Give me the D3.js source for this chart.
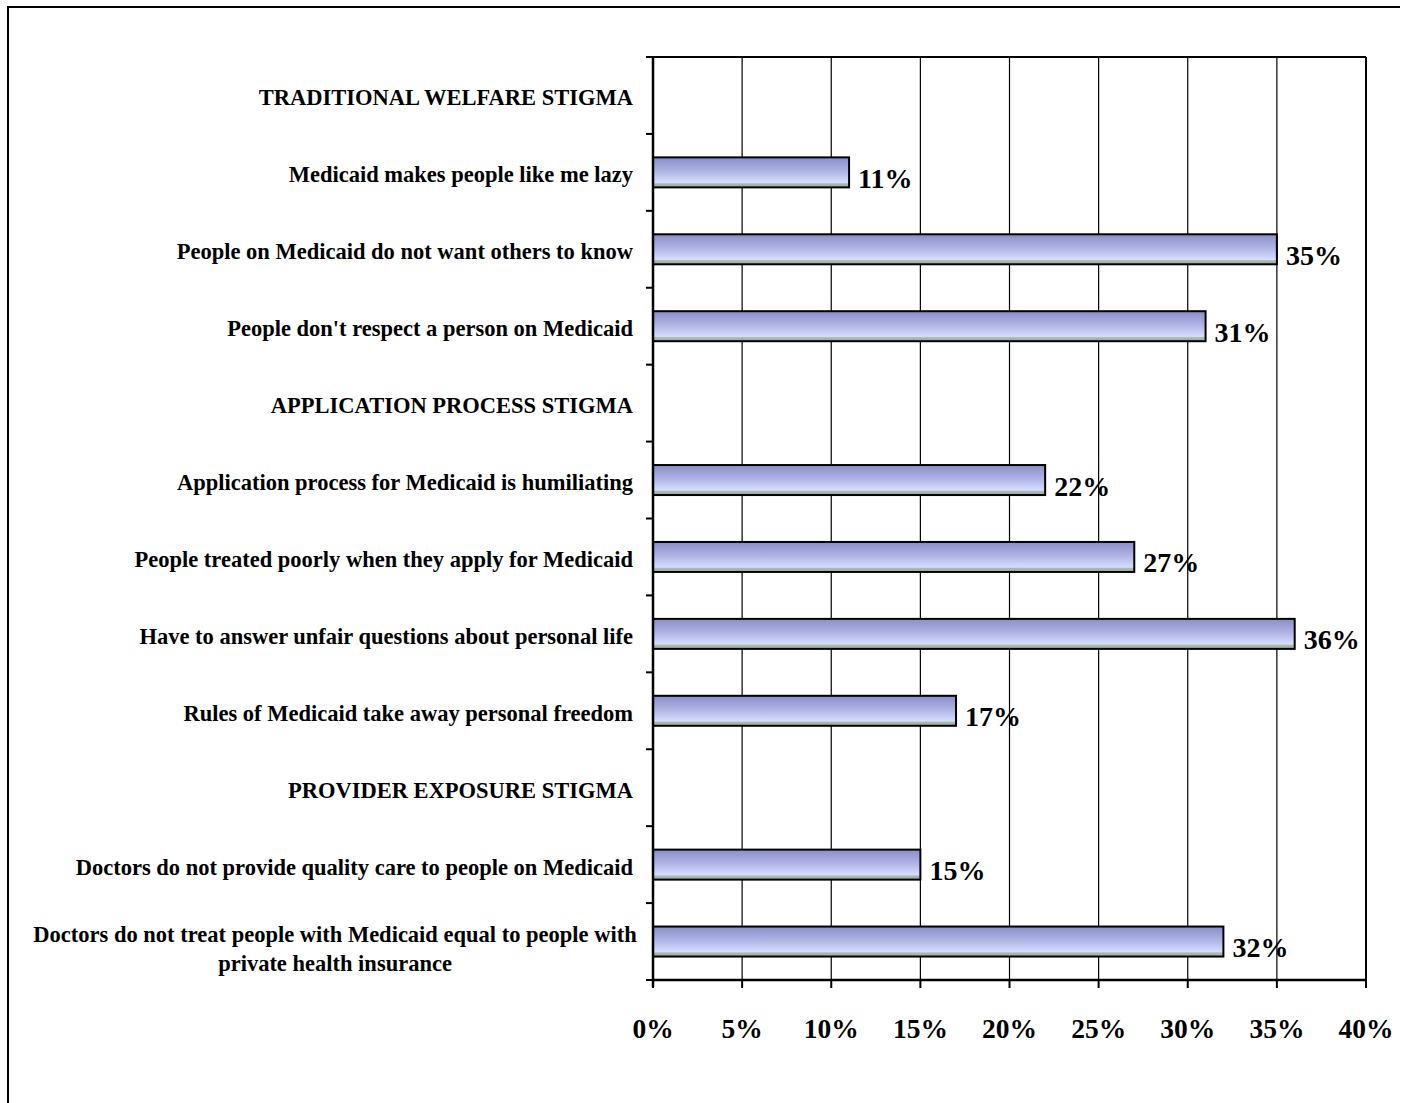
<!DOCTYPE html>
<html>
<head>
<meta charset="utf-8">
<script src="https://cdn.jsdelivr.net/npm/d3@7"></script>
<style>
  body { margin: 0; background: #fff; }
  svg text { font-family: "Liberation Serif", "Times New Roman", serif; font-weight: bold; fill: #000; }
</style>
</head>
<body>
<div id="chart"></div>
<script>
// rows top to bottom; headers have no value
const categories = [
  'TRADITIONAL WELFARE STIGMA',
  'Medicaid makes people like me lazy',
  'People on Medicaid do not want others to know',
  "People don't respect a person on Medicaid",
  'APPLICATION PROCESS STIGMA',
  'Application process for Medicaid is humiliating',
  'People treated poorly when they apply for Medicaid',
  'Have to answer unfair questions about personal life',
  'Rules of Medicaid take away personal freedom',
  'PROVIDER EXPOSURE STIGMA',
  'Doctors do not provide quality care to people on Medicaid',
  'Doctors do not treat people with Medicaid equal to people with|private health insurance'
]
const values = [null, 0.11, 0.35, 0.31, null, 0.22, 0.27, 0.36, 0.17, null, 0.15, 0.32]
const xTicks = [0, 0.05, 0.10, 0.15, 0.20, 0.25, 0.30, 0.35, 0.40]

const width = 1409, height = 1103
const plotL = 653, plotR = 1366, plotT = 57, plotB = 980

let svg = d3.select('#chart').append('svg')
  .attr('width', width)
  .attr('height', height)

let defs = svg.append('defs')
let grad = defs.append('linearGradient')
  .attr('id', 'barGrad')
  .attr('x1', 0).attr('y1', 0).attr('x2', 0).attr('y2', 1)
grad.append('stop').attr('offset', '0%').attr('stop-color', '#8a8ec8')
grad.append('stop').attr('offset', '45%').attr('stop-color', '#aeb3e4')
grad.append('stop').attr('offset', '84%').attr('stop-color', '#d6ddff')
grad.append('stop').attr('offset', '88%').attr('stop-color', '#a9bcae')
grad.append('stop').attr('offset', '100%').attr('stop-color', '#98ad9c')

// outer frame (clipped on the right / bottom)
svg.append('path')
  .attr('d', `M8,1103 V7 H1400`)
  .attr('fill', 'none')
  .attr('stroke', '#000')
  .attr('stroke-width', 2)

let x = d3.scaleLinear().domain([0, 0.4]).range([plotL, plotR])
let y = d3.scaleBand().domain(d3.range(categories.length)).range([plotT, plotB])

// gridlines
svg.append('g')
  .selectAll('line')
  .data(xTicks.slice(1))
  .enter()
  .append('line')
  .attr('x1', d => x(d)).attr('x2', d => x(d))
  .attr('y1', plotT).attr('y2', plotB)
  .attr('stroke', '#000')
  .attr('stroke-width', (d, i) => i === xTicks.length - 2 ? 2 : 1.2)

// top border of plot
svg.append('line')
  .attr('x1', plotL).attr('x2', plotR)
  .attr('y1', plotT).attr('y2', plotT)
  .attr('stroke', '#000').attr('stroke-width', 2)

// bars
let barH = 30
let rows = categories.map((c, i) => ({label: c, value: values[i], i: i}))

svg.append('g')
  .selectAll('rect')
  .data(rows.filter(d => d.value !== null))
  .enter()
  .append('rect')
  .attr('x', x(0))
  .attr('y', d => y(d.i) + y.bandwidth() / 2 - barH / 2)
  .attr('width', d => x(d.value) - x(0))
  .attr('height', barH)
  .attr('fill', 'url(#barGrad)')
  .attr('stroke', '#000')
  .attr('stroke-width', 2)

// value labels
svg.append('g')
  .selectAll('text')
  .data(rows.filter(d => d.value !== null))
  .enter()
  .append('text')
  .attr('x', d => x(d.value) + 9)
  .attr('y', d => y(d.i) + y.bandwidth() / 2 + 15.5)
  .attr('font-size', 28)
  .text(d => Math.round(d.value * 100) + '%')

// y axis
let yAxis = svg.append('g')
yAxis.append('line')
  .attr('x1', plotL).attr('x2', plotL)
  .attr('y1', plotT).attr('y2', plotB + 7)
  .attr('stroke', '#000').attr('stroke-width', 2.5)
yAxis.selectAll('.ytick')
  .data(d3.range(categories.length + 1))
  .enter()
  .append('line')
  .attr('x1', plotL - 7).attr('x2', plotL)
  .attr('y1', d => d < categories.length ? y(d) : plotB)
  .attr('y2', d => d < categories.length ? y(d) : plotB)
  .attr('stroke', '#000').attr('stroke-width', 2)

// category labels
rows.forEach(d => {
  let parts = d.label.split('|')
  let cy = y(d.i) + y.bandwidth() / 2
  if (parts.length === 1) {
    svg.append('text')
      .attr('x', 633)
      .attr('y', cy + 10)
      .attr('text-anchor', 'end')
      .attr('font-size', 22.5)
      .text(parts[0])
  } else {
    let t = svg.append('text')
      .attr('text-anchor', 'middle')
      .attr('font-size', 22.5)
    t.append('tspan').attr('x', 335).attr('y', cy).text(parts[0])
    t.append('tspan').attr('x', 335).attr('y', cy + 29).text(parts[1])
  }
})

// x axis
let xAxis = svg.append('g')
xAxis.append('line')
  .attr('x1', plotL).attr('x2', plotR)
  .attr('y1', plotB).attr('y2', plotB)
  .attr('stroke', '#000').attr('stroke-width', 2.5)
xAxis.selectAll('.xtick')
  .data(xTicks)
  .enter()
  .append('line')
  .attr('x1', d => x(d)).attr('x2', d => x(d))
  .attr('y1', plotB).attr('y2', plotB + 8)
  .attr('stroke', '#000').attr('stroke-width', 2)
xAxis.selectAll('text')
  .data(xTicks)
  .enter()
  .append('text')
  .attr('x', d => x(d))
  .attr('y', 1038)
  .attr('text-anchor', 'middle')
  .attr('font-size', 27.5)
  .text(d => Math.round(d * 100) + '%')
</script>
</body>
</html>
